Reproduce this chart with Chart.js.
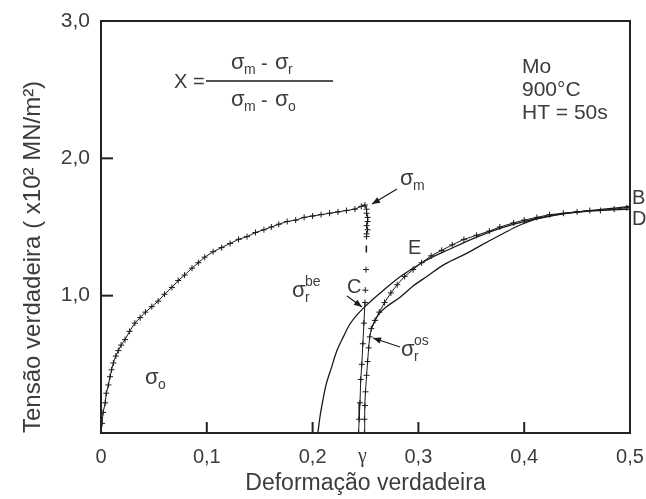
<!DOCTYPE html>
<html>
<head>
<meta charset="utf-8">
<script src="https://cdn.jsdelivr.net/npm/chart.js@4"></script>
<style>
html,body{margin:0;padding:0;background:#fff;}
canvas{display:block;}
</style>
</head>
<body>
<canvas id="c" width="646" height="499"></canvas>
<script>
// ---- data (strain, stress x10^2 MN/m^2) ----
const xTickValues = [0, 0.1, 0.2, 0.247, 0.3, 0.4, 0.5];
const xTickLabels = ['0', '0,1', '0,2', 'γ', '0,3', '0,4', '0,5'];
const xTickMarks = [0.1, 0.2, 0.3, 0.4];
const yTickValues = [1, 2, 3];
const yTickLabels = ['1,0', '2,0', '3,0'];
const yTickMarks = [1, 2];

// first loading to peak (sigma_m) and holding drop
const loadingCurve = [
  [0,0],[0.001,0.07],[0.002,0.15],[0.004,0.22],[0.005,0.29],[0.007,0.35],[0.0085,0.41],
  [0.010,0.46],[0.0117,0.51],[0.014,0.56],[0.0164,0.60],[0.019,0.64],[0.0227,0.68],
  [0.027,0.74],[0.032,0.80],[0.037,0.84],[0.042,0.88],[0.048,0.92],[0.054,0.96],
  [0.060,1.01],[0.067,1.06],[0.073,1.11],[0.079,1.15],[0.086,1.20],[0.092,1.24],
  [0.098,1.28],[0.106,1.32],[0.114,1.35],[0.122,1.38],[0.130,1.41],[0.138,1.43],
  [0.146,1.46],[0.154,1.48],[0.161,1.50],[0.168,1.52],[0.176,1.54],[0.184,1.55],
  [0.192,1.57],[0.200,1.58],[0.208,1.59],[0.216,1.60],[0.224,1.61],[0.232,1.62],
  [0.240,1.63],[0.246,1.65],[0.2495,1.66],[0.251,1.63],[0.251,1.60],[0.252,1.57],
  [0.252,1.54],[0.251,1.51],[0.252,1.48],[0.251,1.45],[0.251,1.43]
];
// sparse unloading marks
const unloadMarks = [[0.2505,1.19],[0.2498,1.04]];
const unloadDash = [[0.2508,1.365],[0.2508,1.315]];
// unloading line below C
const unloadLine = [[0.2495,0.95],[0.2485,0.80],[0.2475,0.65],[0.2465,0.50],[0.2455,0.39],[0.2448,0.22],[0.244,0.10],[0.2435,0]];
// reloading data
const reloadCurve = [
  [0.249,0],[0.249,0.1],[0.2495,0.2],[0.250,0.3],[0.251,0.42],[0.252,0.52],[0.253,0.62],
  [0.254,0.70],[0.2555,0.76],[0.259,0.82],[0.263,0.88],[0.268,0.95],[0.274,1.02],
  [0.280,1.08],[0.287,1.14],[0.295,1.19],[0.303,1.24],[0.312,1.29],[0.322,1.33],
  [0.332,1.37],[0.343,1.41],[0.355,1.44],[0.367,1.47],[0.377,1.50],[0.390,1.53],
  [0.400,1.55],[0.412,1.57],[0.424,1.59],[0.437,1.60],[0.450,1.61],[0.462,1.62],
  [0.472,1.62],[0.485,1.63],[0.497,1.64],[0.5,1.65]
];
// back-extrapolated (shifted) curve, sigma_r^be
const beCurve = [
  [0.205,0],[0.207,0.12],[0.210,0.25],[0.213,0.36],[0.218,0.48],[0.223,0.60],[0.229,0.70],
  [0.235,0.79],[0.242,0.86],[0.2495,0.92],[0.258,0.98],[0.267,1.04],[0.285,1.15],
  [0.308,1.26],[0.330,1.34],[0.350,1.41],[0.377,1.49],[0.400,1.54],[0.424,1.58],
  [0.450,1.61],[0.475,1.63],[0.5,1.65]
];
// offset curve, sigma_r^os
const osCurve = [
  [0.2555,0.76],[0.262,0.86],[0.270,0.92],[0.283,0.99],[0.295,1.07],[0.308,1.14],
  [0.325,1.23],[0.346,1.31],[0.360,1.37],[0.377,1.44],[0.392,1.50],[0.408,1.55],
  [0.425,1.58],[0.440,1.60],[0.470,1.62],[0.5,1.63]
];

const FONT = 'Liberation Sans, Arial, Helvetica, sans-serif';
const toXY = arr => arr.map(p => ({x: p[0], y: p[1]}));
const INK = '#1a1a1a';
const TXT = '#3c3c3c';

const markerSet = (data, extra) => Object.assign({
  data: toXY(data), showLine: true, borderColor: INK, backgroundColor: INK,
  borderWidth: 1, pointStyle: 'cross', pointRadius: 3, pointBorderWidth: 1,
  pointBorderColor: INK, tension: 0
}, extra || {});
const smoothSet = (data) => ({
  data: toXY(data), showLine: true, borderColor: INK, borderWidth: 1.3,
  pointRadius: 0, tension: 0.35
});

const annot = {
  id: 'annot',
  afterDraw(chart) {
    const ctx = chart.ctx, a = chart.chartArea;
    const xs = chart.scales.x, ys = chart.scales.y;
    ctx.save();
    // frame
    ctx.strokeStyle = '#222'; ctx.lineWidth = 2;
    ctx.strokeRect(a.left, a.top, a.right - a.left, a.bottom - a.top);
    // inner tick marks
    ctx.lineWidth = 2;
    xTickMarks.forEach(v => {
      const px = xs.getPixelForValue(v);
      ctx.beginPath(); ctx.moveTo(px, a.bottom); ctx.lineTo(px, a.bottom - 11); ctx.stroke();
    });
    yTickMarks.forEach(v => {
      const py = ys.getPixelForValue(v);
      ctx.beginPath(); ctx.moveTo(a.left, py); ctx.lineTo(a.left + 12, py); ctx.stroke();
    });

    ctx.fillStyle = TXT;
    ctx.textBaseline = 'middle';
    ctx.textAlign = 'left';
    const txt = (s, x, y, size) => { ctx.font = size + 'px ' + FONT; ctx.fillText(s, x, y); };
    const sig = (x, y, sub, sup) => {
      txt('σ', x, y, 22);
      if (sub) txt(sub, x + 13, y + 7, 14);
      if (sup) txt(sup, x + 13, y - 9, 14);
    };
    const arrow = (x1, y1, x2, y2) => {
      ctx.strokeStyle = INK; ctx.fillStyle = INK; ctx.lineWidth = 1.2;
      ctx.beginPath(); ctx.moveTo(x1, y1); ctx.lineTo(x2, y2); ctx.stroke();
      const ang = Math.atan2(y2 - y1, x2 - x1), L = 8, W = 3.2;
      ctx.beginPath();
      ctx.moveTo(x2, y2);
      ctx.lineTo(x2 - L * Math.cos(ang) + W * Math.sin(ang), y2 - L * Math.sin(ang) - W * Math.cos(ang));
      ctx.lineTo(x2 - L * Math.cos(ang) - W * Math.sin(ang), y2 - L * Math.sin(ang) + W * Math.cos(ang));
      ctx.closePath(); ctx.fill();
      ctx.fillStyle = TXT;
    };

    // formula
    txt('X =', 174, 82, 20);
    ctx.strokeStyle = INK; ctx.lineWidth = 1.5;
    ctx.beginPath(); ctx.moveTo(206, 81); ctx.lineTo(333, 81); ctx.stroke();
    sig(231, 63, 'm'); txt('-', 261, 64, 20); sig(275, 63, 'r');
    sig(231, 100, 'm'); txt('-', 261, 101, 20); sig(275, 100, 'o');

    // sample info
    txt('Mo', 522, 67, 21);
    txt('900°C', 522, 90, 21);
    txt('HT = 50s', 522, 113, 21);

    // curve labels
    sig(400, 179, 'm');
    arrow(397, 189, 372, 204);
    txt('B', 632, 198, 20);
    txt('D', 632, 219, 20);
    txt('E', 408, 248, 20);
    txt('C', 347, 287, 20);
    sig(292, 291, 'r', 'be');
    arrow(347, 296, 362, 307);
    sig(401, 350, 'r', 'os');
    arrow(400, 347, 373, 338);
    sig(145, 378, 'o');
    ctx.restore();
  }
};

new Chart(document.getElementById('c'), {
  type: 'scatter',
  data: {
    datasets: [
      markerSet(loadingCurve),
      markerSet(unloadMarks, {showLine: false}),
      markerSet(unloadDash, {pointRadius: 0, borderWidth: 1.5}),
      markerSet(unloadLine),
      markerSet(reloadCurve),
      smoothSet(beCurve),
      smoothSet(osCurve)
    ]
  },
  options: {
    responsive: false,
    devicePixelRatio: 1,
    animation: false,
    layout: {padding: {top: 21, right: 16, left: 0, bottom: 0}},
    plugins: {legend: {display: false}, tooltip: {enabled: false}},
    scales: {
      x: {
        type: 'linear', min: 0, max: 0.5,
        afterBuildTicks: s => { s.ticks = xTickValues.map(v => ({value: v})); },
        afterFit: s => { s.height = 66; },
        grid: {display: false, tickLength: 10},
        border: {display: false},
        ticks: {
          autoSkip: false, maxRotation: 0, padding: 2, color: TXT,
          font: c => (c.tick && c.tick.value === 0.247)
            ? {family: 'Liberation Serif, serif', size: 20}
            : {family: FONT, size: 20},
          callback: (v, i) => xTickLabels[i]
        },
        title: {display: true, text: 'Deformação verdadeira', color: TXT,
          font: {family: FONT, size: 23}, padding: {top: 0, bottom: 2}}
      },
      y: {
        type: 'linear', min: 0, max: 3,
        afterBuildTicks: s => { s.ticks = yTickValues.map(v => ({value: v})); },
        afterFit: s => { s.width = 101; },
        grid: {display: false, tickLength: 10},
        border: {display: false},
        ticks: {
          autoSkip: false, padding: 1, color: TXT,
          font: {family: FONT, size: 21},
          callback: (v, i) => yTickLabels[i]
        },
        title: {display: true, text: 'Tensão verdadeira ( x10² MN/m²)', color: TXT, align: 'start',
          font: {family: FONT, size: 24}, padding: {top: 19, bottom: 0}}
      }
    }
  },
  plugins: [annot]
});
</script>
</body>
</html>
